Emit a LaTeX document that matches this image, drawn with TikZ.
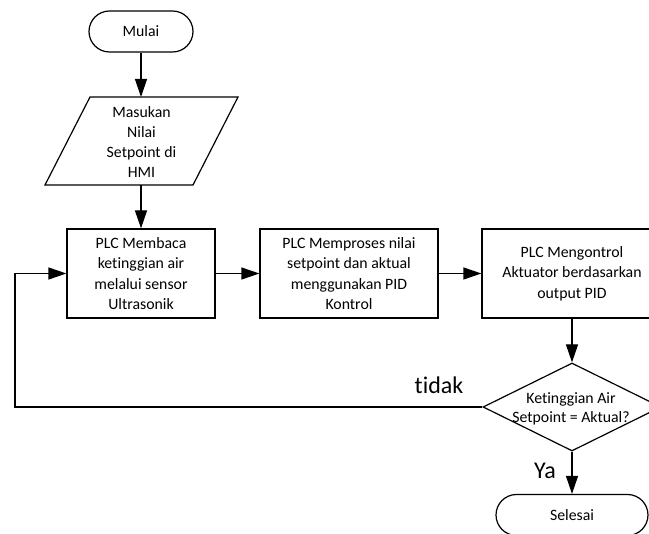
\documentclass[tikz,border=0pt]{standalone}
\usepackage{fontspec}
\setmainfont{Carlito}[Ligatures=NoCommon]
\usetikzlibrary{arrows.meta,shapes.geometric,shapes.misc}
\begin{document}
\begin{tikzpicture}[x=1pt,y=-1pt,
  lw/.style={line width=1.2pt},
  arr/.style={lw,-{Triangle[length=18pt,width=12pt]}},
  txt/.style={font=\fontsize{15.8}{20.3}\selectfont,align=center,inner sep=0pt},
  procbox/.style={draw,lw,minimum height=89pt,txt},
  term/.style={draw,lw,rounded rectangle,minimum height=41pt,inner sep=0pt,font=\fontsize{15.8}{20}\selectfont},
  lbl/.style={font=\fontsize{24}{28}\selectfont,inner sep=0pt}]
\useasboundingbox (0,0) rectangle (649,534);
\fill[white] (0,0) rectangle (649,534);
\clip (0,0) rectangle (649,534);
% terminals
\node[term,minimum width=104pt] (start) at (141,31.5) {Mulai};
\node[term,minimum width=152pt] (stop) at (572,515) {Selesai};
% parallelogram
\coordinate (ptl) at (90,97);
\coordinate (ptr) at (238,97);
\coordinate (pbr) at (193,185);
\coordinate (pbl) at (45,185);
\draw[lw] (ptl) -- (ptr) -- (pbr) -- (pbl) -- cycle;
\coordinate (ptop) at (141,97);
\coordinate (pbot) at (141,185);
\node[txt] (input) at (141.5,142) {Masukan\\Nilai\\Setpoint di\\HMI};
% process boxes
\node[procbox,minimum width=148pt] (b1) at (141,273.5) {PLC Membaca\\ketinggian air\\melalui sensor\\Ultrasonik};
\node[procbox,minimum width=178pt] (b2) at (349,273.5) {PLC Memproses nilai\\setpoint dan aktual\\menggunakan PID\\Kontrol};
\node[procbox,minimum width=180pt] (b3) at (572,273.5) {PLC Mengontrol\\Aktuator berdasarkan\\output PID};
% decision
\node[diamond,draw,lw,minimum width=178pt,minimum height=88pt,inner sep=0pt] (dec) at (572,407) {};
\node[txt,font=\fontsize{15.8}{18.5}\selectfont] (dectext) at (571,409) {Ketinggian Air\\Setpoint = Aktual?};
% connectors
\draw[arr] (start.south) -- (ptop);
\draw[arr] (pbot) -- (b1.north);
\draw[arr] (b1.east) -- (b2.west);
\draw[arr] (b2.east) -- (b3.west);
\draw[arr] (b3.south) -- (dec.north);
\draw[arr] (dec.south) -- (stop.north);
\coordinate (fb) at (15,407);
\draw[arr] (dec.west) -- (fb) |- (b1.west);
% labels
\node[lbl] (tidak) at (439,385) {tidak};
\node[lbl] (ya) at (545,471) {Ya};
\end{tikzpicture}
\end{document}
